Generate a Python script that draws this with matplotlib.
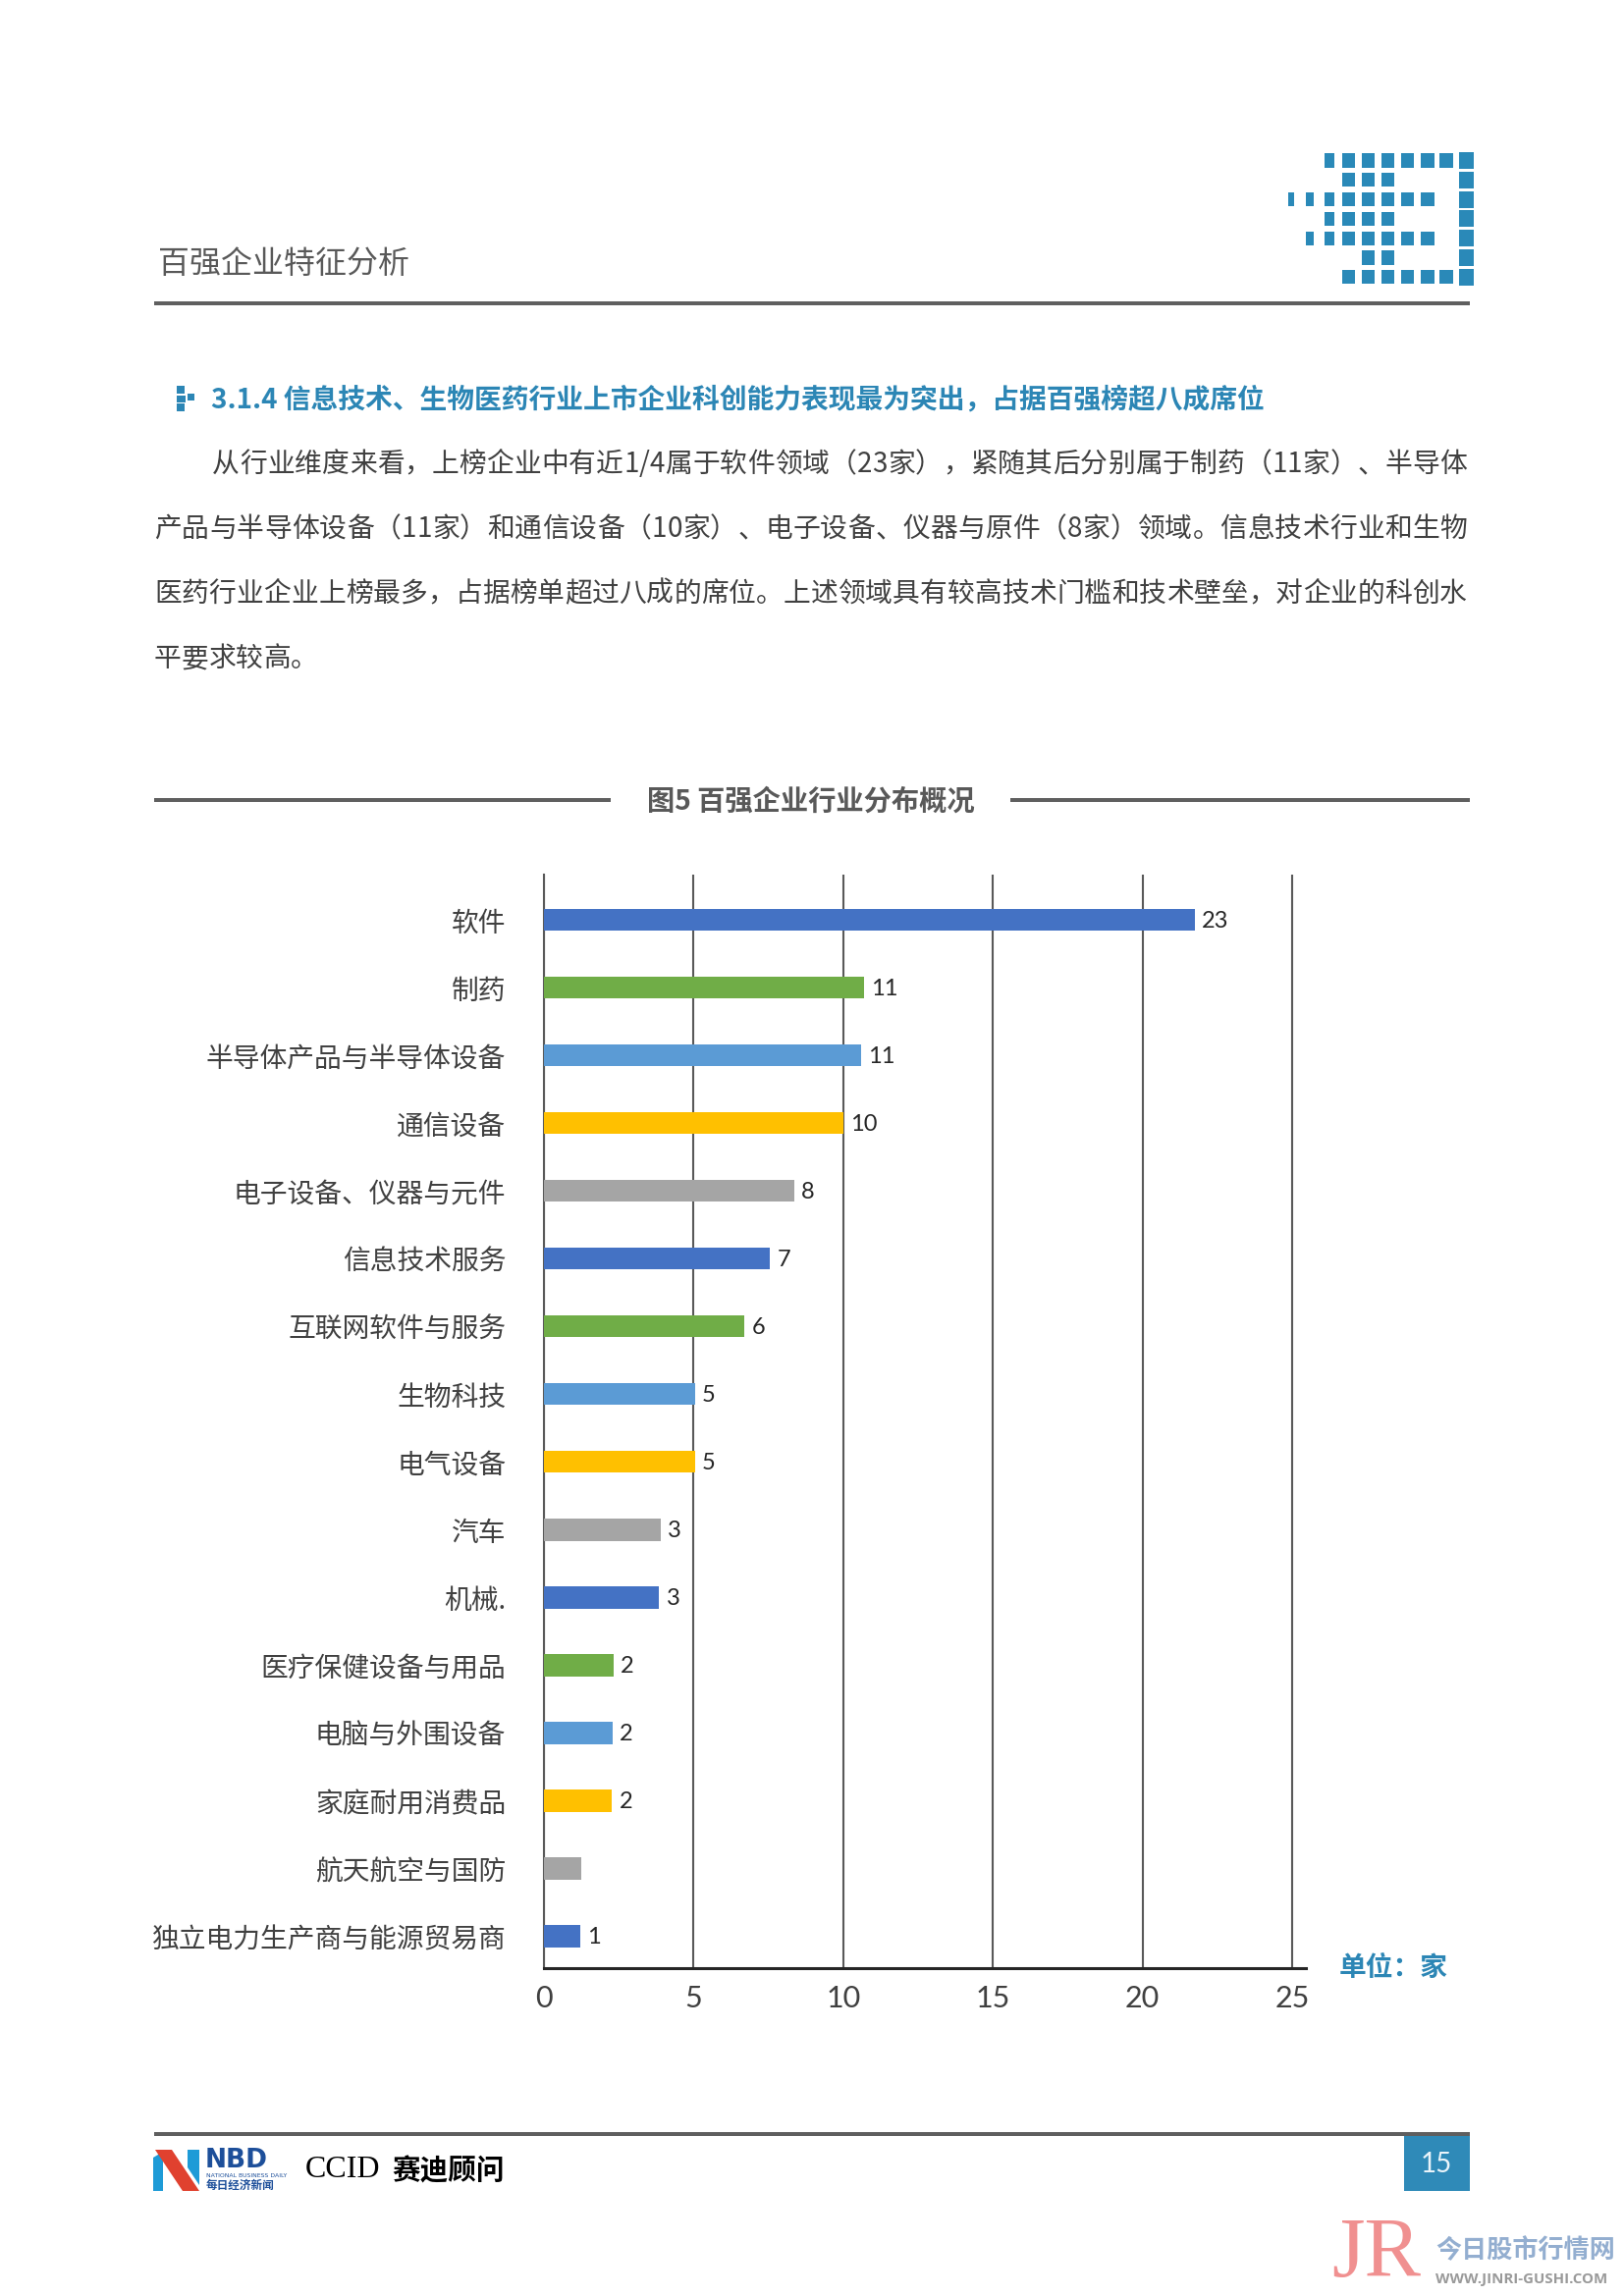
import numpy as np
import matplotlib
matplotlib.use("Agg")
import matplotlib.pyplot as plt
from matplotlib.patches import Rectangle, Polygon
from matplotlib.font_manager import FontProperties

plt.rcParams['font.family'] = ['Noto Sans CJK SC', 'DejaVu Sans']

# ---------------- data ----------------
categories = ['软件', '制药', '半导体产品与半导体设备', '通信设备', '电子设备、仪器与元件',
              '信息技术服务', '互联网软件与服务', '生物科技', '电气设备', '汽车', '机械.',
              '医疗保健设备与用品', '电脑与外围设备', '家庭耐用消费品', '航天航空与国防',
              '独立电力生产商与能源贸易商']
bar_lengths = [21.75, 10.7, 10.6, 10.0, 8.35, 7.55, 6.7, 5.05, 5.05, 3.9, 3.85,
               2.33, 2.3, 2.27, 1.25, 1.2]
bar_labels = ['23', '11', '11', '10', '8', '7', '6', '5', '5', '3', '3',
              '2', '2', '2', '', '1']
x_ticks = [0, 5, 10, 15, 20, 25]
palette = ['#4472C4', '#70AD47', '#5B9BD5', '#FFC000', '#A5A5A5']

header_title = '百强企业特征分析'
section_title = '3.1.4 信息技术、生物医药行业上市企业科创能力表现最为突出，占据百强榜超八成席位'
para_lines = [
    '从行业维度来看，上榜企业中有近1/4属于软件领域（23家），紧随其后分别属于制药（11家）、半导体',
    '产品与半导体设备（11家）和通信设备（10家）、电子设备、仪器与原件（8家）领域。信息技术行业和生物',
    '医药行业企业上榜最多，占据榜单超过八成的席位。上述领域具有较高技术门槛和技术壁垒，对企业的科创水',
    '平要求较高。',
]
chart_title = '图5 百强企业行业分布概况'
unit_text = '单位：家'
page_no = '15'

# ---------------- figure ----------------
W, H = 1654, 2339
DPI = 200
fig = plt.figure(figsize=(W / DPI, H / DPI), dpi=DPI)
fig.patch.set_facecolor('white')


def fx(x):
    return x / W


def fy(y):
    return 1 - y / H


def rect(x0, y0, x1, y1, color, **kw):
    fig.add_artist(Rectangle((fx(x0), fy(y1)), (x1 - x0) / W, (y1 - y0) / H,
                             transform=fig.transFigure, facecolor=color,
                             edgecolor='none', **kw))


def poly(pts, color):
    fig.add_artist(Polygon([(fx(x), fy(y)) for x, y in pts], closed=True,
                           transform=fig.transFigure, facecolor=color, edgecolor='none'))


TEAL = '#2C86B5'
GRAY_RULE = '#5F5F5F'
TEXT = '#404040'

# ---------------- header ----------------
fig.text(fx(161), fy(269), header_title, fontsize=11.5, color='#595959',
         ha='left', va='center')
rect(157, 307, 1497, 311, GRAY_RULE)

# logo blocks
col_x = [1308 + 19.8 * c for c in range(10)]
col_w = [6, 8, 10, 13, 13, 13, 13, 14, 14, 15]
logo_rows = [
    [2, 3, 4, 5, 6, 7, 8, 9],
    [3, 4, 5, 9],
    [0, 1, 2, 3, 4, 5, 6, 7, 9],
    [2, 3, 4, 5, 9],
    [1, 2, 3, 4, 5, 6, 7, 9],
    [4, 5, 9],
    [3, 4, 5, 6, 7, 8, 9],
]
for r, cols in enumerate(logo_rows):
    yc = 163.5 + 19.8 * r
    for c in cols:
        hh = 17 if c == 9 else 14
        x0 = col_x[c] + (13 - col_w[c]) / 2 if c < 3 else col_x[c]
        rect(x0, yc - hh / 2, x0 + col_w[c], yc + hh / 2, '#2A89B8')

# ---------------- section heading ----------------
rect(180, 393, 188, 401, TEAL)
rect(180, 403, 189, 410, TEAL)
rect(191, 401, 198, 408, TEAL)
rect(180, 411, 188, 419, TEAL)
fig.text(fx(215), fy(407), section_title, fontsize=10.0, fontweight='bold',
         color=TEAL, ha='left', va='center')

# ---------------- paragraph (justified) ----------------
renderer = fig.canvas.get_renderer()
fp = FontProperties(family=['Noto Sans CJK SC', 'DejaVu Sans'], size=10)


def put_line(line, x0, x1, yc, justify=True):
    widths = [renderer.get_text_width_height_descent(ch, fp, ismath=False)[0] for ch in line]
    total = sum(widths)
    gap = (x1 - x0 - total) / (len(line) - 1) if justify and len(line) > 1 else 0
    x = x0
    for ch, w in zip(line, widths):
        fig.text(fx(x), fy(yc + 10), ch, fontproperties=fp, color=TEXT,
                 ha='left', va='baseline')
        x += w + gap


line_y = [471, 537, 603, 669]
put_line(para_lines[0], 216, 1494, line_y[0])
put_line(para_lines[1], 157, 1494, line_y[1])
put_line(para_lines[2], 157, 1494, line_y[2])
put_line(para_lines[3], 157, 1494, line_y[3], justify=False)

# ---------------- chart title ----------------
rect(157, 813, 622, 817, GRAY_RULE)
rect(1029, 813, 1497, 817, GRAY_RULE)
fig.text(fx(826), fy(817), chart_title, fontsize=10.2, fontweight='bold',
         color='#595959', ha='center', va='center')

# ---------------- bar chart ----------------
ax_left, ax_right, ax_top, ax_bottom = 554, 1330, 891, 2005
ax = fig.add_axes([fx(ax_left), fy(ax_bottom), (ax_right - ax_left) / W,
                   (ax_bottom - ax_top) / H])
ypos = np.arange(len(categories))
colors = [palette[i % len(palette)] for i in range(len(categories))]
ax.barh(ypos, bar_lengths, height=0.323, color=colors, zorder=3)
ax.set_ylim(15.47, -0.668)
ax.set_xlim(0, 25.46)
ax.set_xticks(x_ticks)
ax.set_xticklabels([str(t) for t in x_ticks], family=['Lato', 'DejaVu Sans'])
ax.set_yticks(ypos)
ax.set_yticklabels(categories)
ax.xaxis.grid(True, color='#595959', linewidth=0.75, zorder=0)
ax.set_axisbelow(True)
for s in ['top', 'right']:
    ax.spines[s].set_visible(False)
ax.spines['left'].set_color('#595959')
ax.spines['left'].set_linewidth(0.75)
ax.spines['bottom'].set_color('#262626')
ax.spines['bottom'].set_linewidth(1.1)
ax.tick_params(axis='x', length=0, labelsize=11, pad=6, labelcolor=TEXT)
ax.tick_params(axis='y', length=0, labelsize=10, pad=14, labelcolor=TEXT)
for i, (v, lab) in enumerate(zip(bar_lengths, bar_labels)):
    if lab:
        ax.annotate(lab, (v, i), xytext=(2.6, -0.5), textcoords='offset points',
                    ha='left', va='center', fontsize=8.5, color='#262626',
                    family=['Lato', 'DejaVu Sans'], zorder=4)

fig.text(fx(1419), fy(2005), unit_text, fontsize=10, fontweight='bold',
         color=TEAL, ha='center', va='center')

# ---------------- footer ----------------
rect(157, 2172, 1497, 2176, GRAY_RULE)
# NBD logo
poly([(156, 2198), (166, 2192), (166, 2232), (156, 2232)], '#1E9BD7')
poly([(158, 2190), (175, 2190), (203, 2232), (186, 2232)], '#E0412F')
poly([(191, 2190), (203, 2190), (203, 2226), (191, 2208)], '#1E9BD7')
fig.text(fx(209), fy(2201), 'NBD', fontsize=9.5, fontweight='bold', color='#1D4F9A',
         family=['DejaVu Sans'], ha='left', va='center')
fig.text(fx(210), fy(2216), 'NATIONAL BUSINESS DAILY', fontsize=2.2, color='#1D4F9A',
         family=['DejaVu Sans'], ha='left', va='center')
fig.text(fx(210), fy(2226), '每日经济新闻', fontsize=4.2, fontweight='bold', color='#1D4F9A',
         ha='left', va='center')
fig.text(fx(311), fy(2211), 'CCID', fontsize=11.5, color='black',
         family=['Liberation Serif'], ha='left', va='center')
fig.text(fx(399), fy(2211), '赛迪顾问', fontsize=10.3, fontweight='bold', color='black',
         ha='left', va='center')
rect(1430, 2176, 1497, 2232, '#2F8AB8')
fig.text(fx(1463), fy(2205), page_no, fontsize=10, color='#EAF4FA',
         family=['Lato', 'DejaVu Sans'], ha='center', va='center')

# ---------------- watermark ----------------
fig.text(fx(1356), fy(2298), 'JR', fontsize=31, color='#F08A8A',
         family=['Liberation Serif'], ha='left', va='center', alpha=0.95)
fig.text(fx(1462), fy(2293), '今日股市行情网', fontsize=9.4, fontweight='bold',
         color='#93AED0', ha='left', va='center')
fig.text(fx(1462), fy(2322), 'WWW.JINRI-GUSHI.COM', fontsize=5.4, fontweight='bold',
         color='#9A9A9A', family=['Open Sans', 'DejaVu Sans'], ha='left', va='center')

fig.savefig('out.png', dpi=DPI, facecolor='white')
